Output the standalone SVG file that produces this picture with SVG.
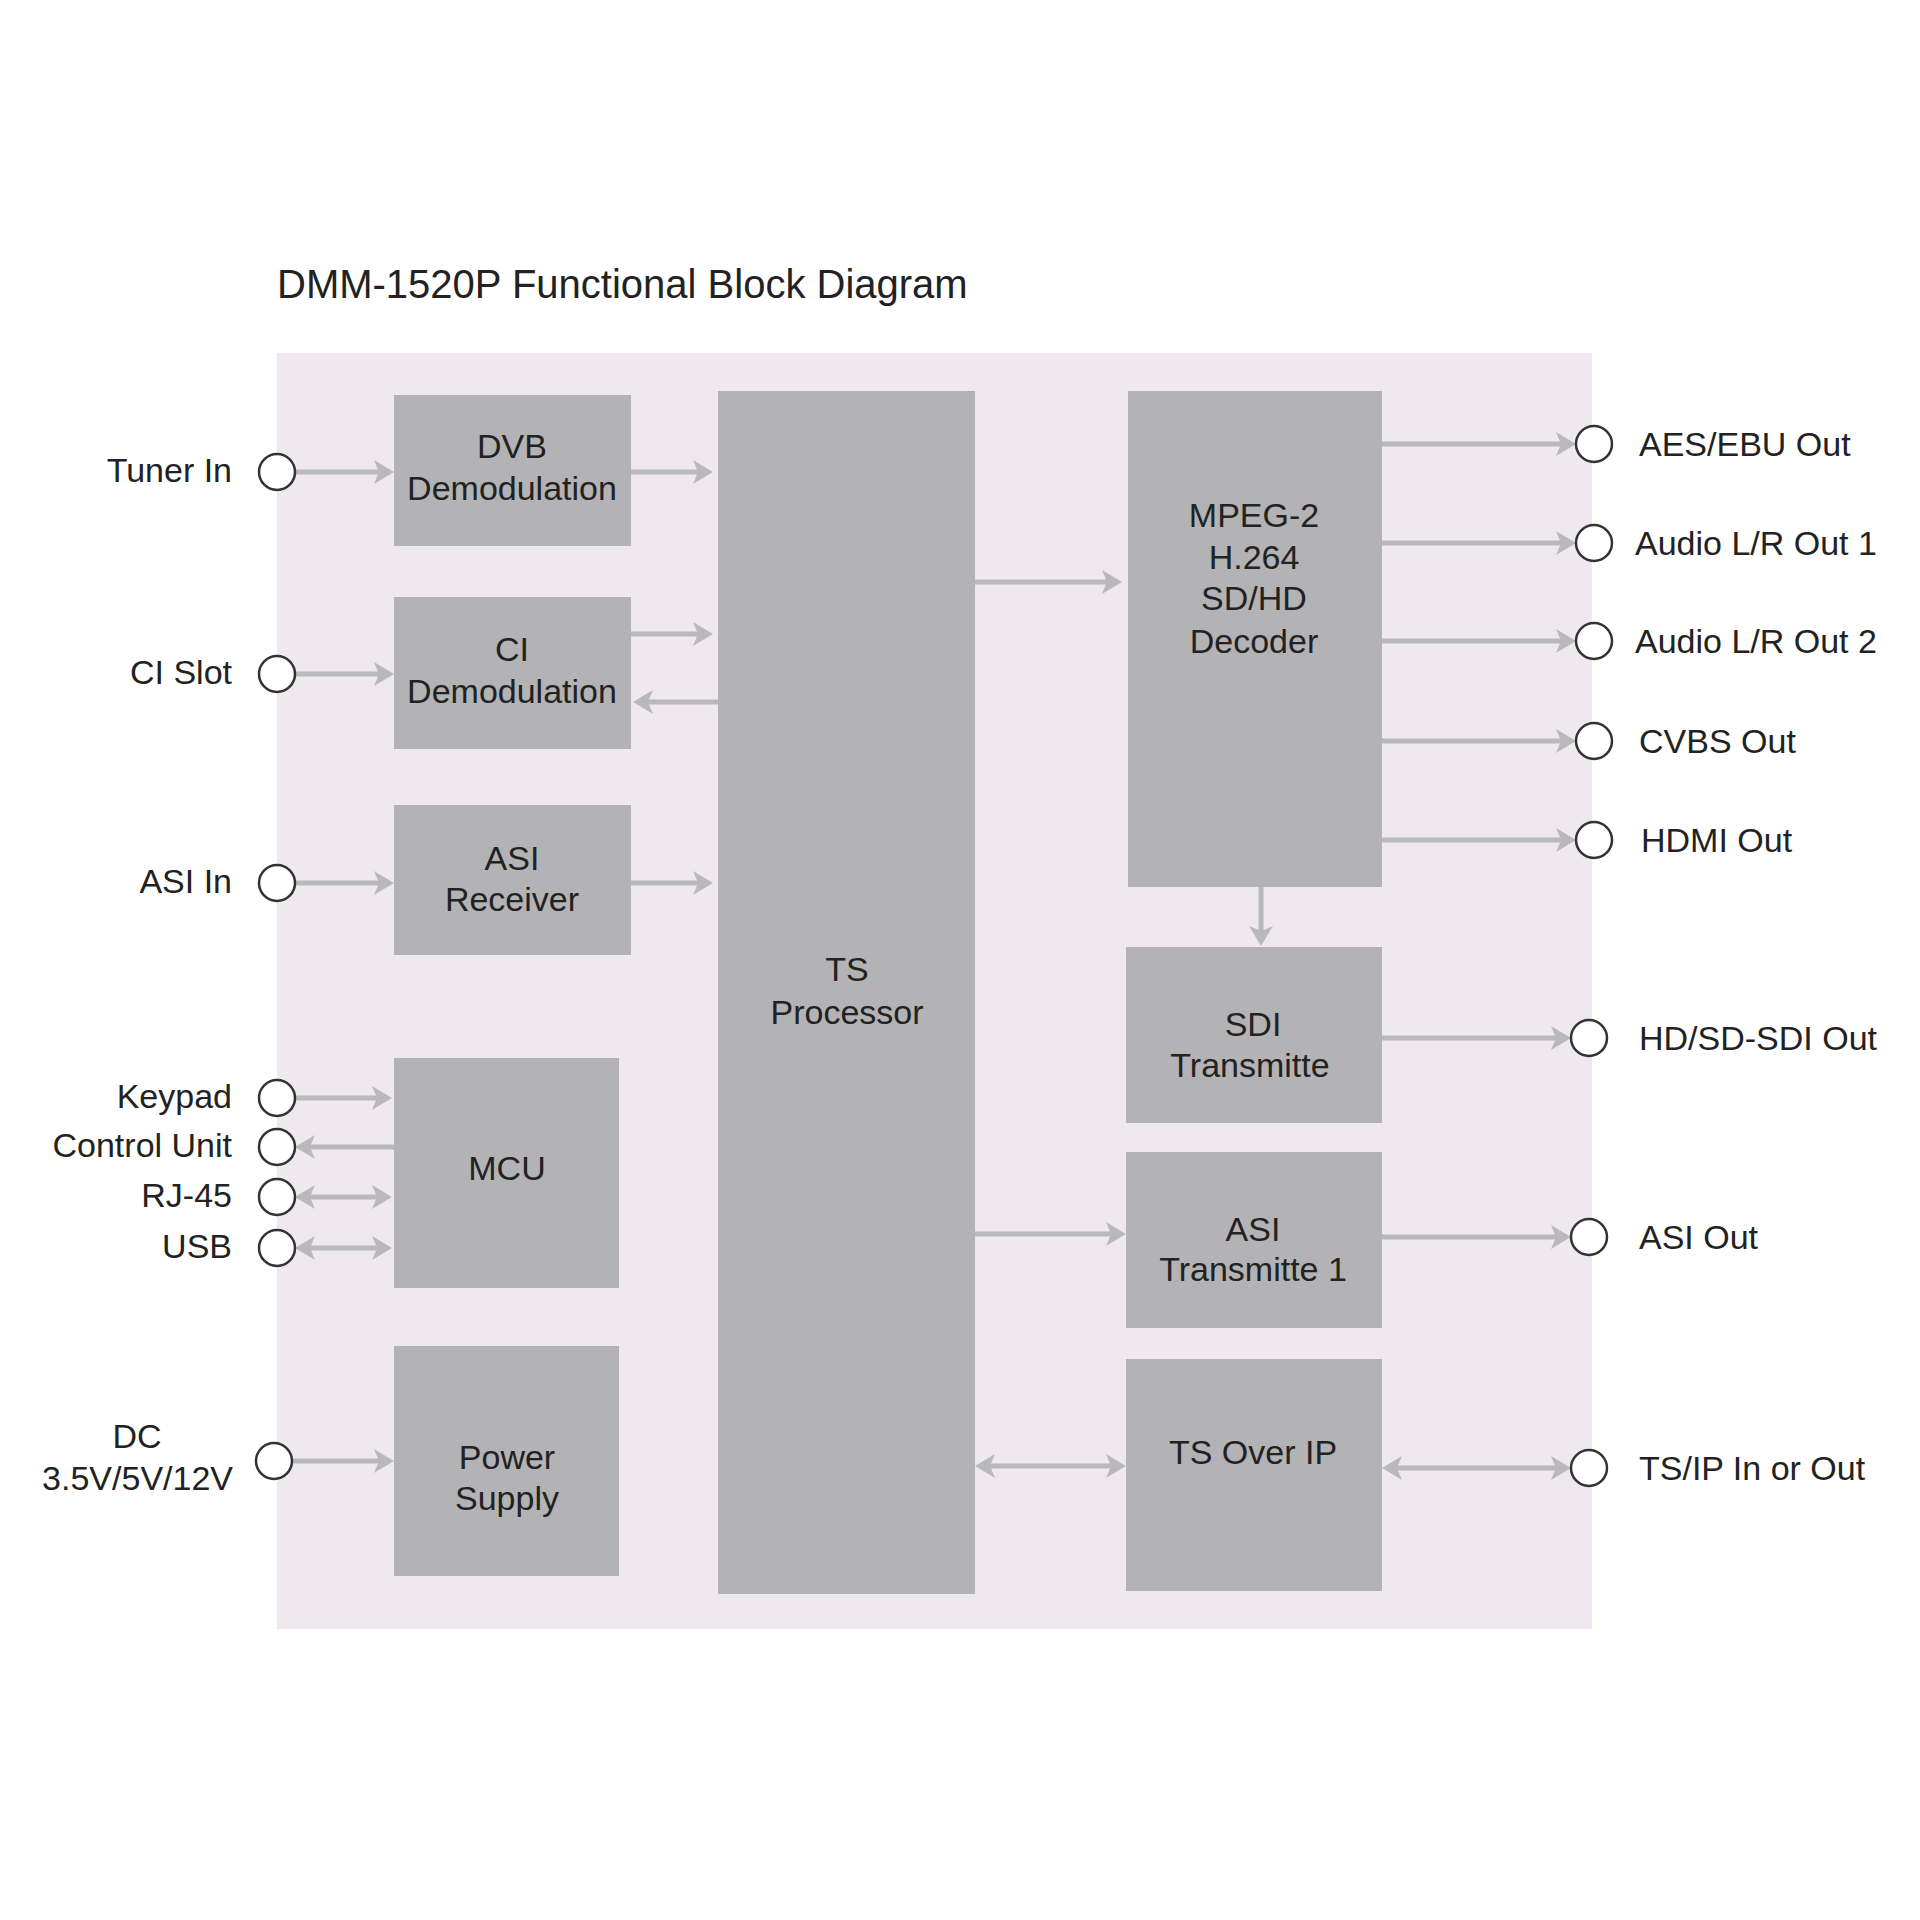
<svg xmlns="http://www.w3.org/2000/svg" width="1920" height="1920" viewBox="0 0 1920 1920">
<defs>
<style>
.box{fill:#b3b3b5}
.bt{font-family:"Liberation Sans",Arial,sans-serif;font-size:34px;fill:#222;text-anchor:middle}
.lbl{font-family:"Liberation Sans",Arial,sans-serif;font-size:34px;fill:#222}
.lr{text-anchor:end}
.port{fill:#fff;stroke:#333;stroke-width:2.5}
.c{stroke:#b9b9bb;stroke-width:5;fill:none}
.a{marker-end:url(#ah)}
.b{marker-start:url(#ah);marker-end:url(#ah)}
</style>
<marker id="ah" markerUnits="userSpaceOnUse" markerWidth="24" markerHeight="26" refX="12" refY="12" orient="auto-start-reverse" viewBox="0 0 24 24">
<path d="M0,0 L20,12 L0,24 L5,12 Z" fill="#b9b9bb"/>
</marker>
</defs>
<rect width="1920" height="1920" fill="#fff"/>
<text x="277" y="298" class="lbl" style="font-size:40px">DMM-1520P Functional Block Diagram</text>
<rect id="panel" x="277" y="353" width="1315" height="1276" fill="#efe8ef"/>

<g id="connectors">
<line class="c a" x1="295" y1="472" x2="386" y2="472"/>
<line class="c a" x1="631" y1="472" x2="705" y2="472"/>
<line class="c a" x1="295" y1="674" x2="386" y2="674"/>
<line class="c a" x1="631" y1="634" x2="705" y2="634"/>
<line class="c a" x1="718" y1="702" x2="641" y2="702"/>
<line class="c a" x1="295" y1="883" x2="386" y2="883"/>
<line class="c a" x1="631" y1="883" x2="705" y2="883"/>
<line class="c a" x1="295" y1="1098" x2="384" y2="1098"/>
<line class="c a" x1="394" y1="1147" x2="303" y2="1147"/>
<line class="c b" x1="303" y1="1197" x2="384" y2="1197"/>
<line class="c b" x1="303" y1="1248" x2="384" y2="1248"/>
<line class="c a" x1="292" y1="1461" x2="386" y2="1461"/>
<line class="c a" x1="975" y1="582" x2="1114" y2="582"/>
<line class="c a" x1="1382" y1="444" x2="1568" y2="444"/>
<line class="c a" x1="1382" y1="543" x2="1568" y2="543"/>
<line class="c a" x1="1382" y1="641" x2="1568" y2="641"/>
<line class="c a" x1="1382" y1="741" x2="1568" y2="741"/>
<line class="c a" x1="1382" y1="840" x2="1568" y2="840"/>
<line class="c a" x1="1261" y1="887" x2="1261" y2="938"/>
<line class="c a" x1="1382" y1="1038" x2="1563" y2="1038"/>
<line class="c a" x1="975" y1="1234" x2="1118" y2="1234"/>
<line class="c a" x1="1382" y1="1237" x2="1563" y2="1237"/>
<line class="c b" x1="983" y1="1466" x2="1118" y2="1466"/>
<line class="c b" x1="1390" y1="1468" x2="1563" y2="1468"/>
</g>

<g id="dvb"><rect class="box" x="394" y="395" width="237" height="151"/><text class="bt" x="512" y="458">DVB</text><text class="bt" x="512" y="500">Demodulation</text></g>
<g id="ci"><rect class="box" x="394" y="597" width="237" height="152"/><text class="bt" x="512" y="661">CI</text><text class="bt" x="512" y="703">Demodulation</text></g>
<g id="asi-receiver"><rect class="box" x="394" y="805" width="237" height="150"/><text class="bt" x="512" y="870">ASI</text><text class="bt" x="512" y="911">Receiver</text></g>
<g id="mcu"><rect class="box" x="394" y="1058" width="225" height="230"/><text class="bt" x="507" y="1180">MCU</text></g>
<g id="power"><rect class="box" x="394" y="1346" width="225" height="230"/><text class="bt" x="507" y="1469">Power</text><text class="bt" x="507" y="1510">Supply</text></g>
<g id="ts-processor"><rect class="box" x="718" y="391" width="257" height="1203"/><text class="bt" x="847" y="981">TS</text><text class="bt" x="847" y="1024">Processor</text></g>
<g id="decoder"><rect class="box" x="1128" y="391" width="254" height="496"/><text class="bt" x="1254" y="527">MPEG-2</text><text class="bt" x="1254" y="569">H.264</text><text class="bt" x="1254" y="610">SD/HD</text><text class="bt" x="1254" y="653">Decoder</text></g>
<g id="sdi"><rect class="box" x="1126" y="947" width="256" height="176"/><text class="bt" x="1253" y="1036">SDI</text><text class="bt" x="1250" y="1077">Transmitte</text></g>
<g id="asi-transmitter"><rect class="box" x="1126" y="1152" width="256" height="176"/><text class="bt" x="1253" y="1241">ASI</text><text class="bt" x="1253" y="1281">Transmitte 1</text></g>
<g id="ts-over-ip"><rect class="box" x="1126" y="1359" width="256" height="232"/><text class="bt" x="1253" y="1464">TS Over IP</text></g>

<g id="inputs">
<g id="tuner-in"><circle class="port" cx="277" cy="472" r="18"/><text class="lbl lr" x="232" y="482">Tuner In</text></g>
<g id="ci-slot"><circle class="port" cx="277" cy="674" r="18"/><text class="lbl lr" x="232" y="684">CI Slot</text></g>
<g id="asi-in"><circle class="port" cx="277" cy="883" r="18"/><text class="lbl lr" x="232" y="893">ASI In</text></g>
<g id="keypad"><circle class="port" cx="277" cy="1098" r="18"/><text class="lbl lr" x="232" y="1108">Keypad</text></g>
<g id="control-unit"><circle class="port" cx="277" cy="1147" r="18"/><text class="lbl lr" x="232" y="1157">Control Unit</text></g>
<g id="rj45"><circle class="port" cx="277" cy="1197" r="18"/><text class="lbl lr" x="232" y="1207">RJ-45</text></g>
<g id="usb"><circle class="port" cx="277" cy="1248" r="18"/><text class="lbl lr" x="232" y="1258">USB</text></g>
<g id="dc"><circle class="port" cx="274" cy="1461" r="18"/><text class="lbl" x="137" y="1448" text-anchor="middle">DC</text><text class="lbl lr" x="233" y="1490">3.5V/5V/12V</text></g>
</g>

<g id="outputs">
<g id="aes-out"><circle class="port" cx="1594" cy="444" r="18"/><text class="lbl" x="1639" y="456">AES/EBU Out</text></g>
<g id="audio1-out"><circle class="port" cx="1594" cy="543" r="18"/><text class="lbl" x="1635" y="555">Audio L/R Out 1</text></g>
<g id="audio2-out"><circle class="port" cx="1594" cy="641" r="18"/><text class="lbl" x="1635" y="653">Audio L/R Out 2</text></g>
<g id="cvbs-out"><circle class="port" cx="1594" cy="741" r="18"/><text class="lbl" x="1639" y="753">CVBS Out</text></g>
<g id="hdmi-out"><circle class="port" cx="1594" cy="840" r="18"/><text class="lbl" x="1641" y="852">HDMI Out</text></g>
<g id="sdi-out"><circle class="port" cx="1589" cy="1038" r="18"/><text class="lbl" x="1639" y="1050">HD/SD-SDI Out</text></g>
<g id="asi-out"><circle class="port" cx="1589" cy="1237" r="18"/><text class="lbl" x="1639" y="1249">ASI Out</text></g>
<g id="tsip-out"><circle class="port" cx="1589" cy="1468" r="18"/><text class="lbl" x="1639" y="1480">TS/IP In or Out</text></g>
</g>
</svg>
